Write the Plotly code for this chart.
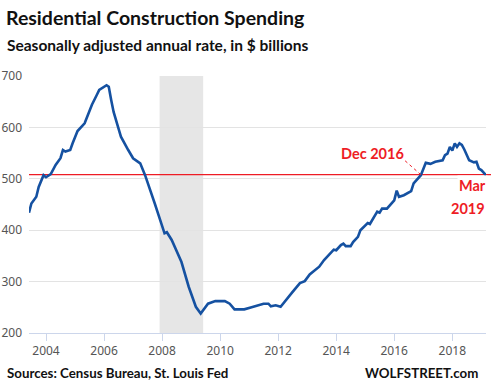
import plotly.graph_objects as go

# ---- data ----
dates = [
    "2003-06", "2003-07", "2003-09", "2003-10", "2003-12", "2004-01", "2004-03", "2004-05",
    "2004-07", "2004-08", "2004-09", "2004-11", "2004-12", "2005-02", "2005-05", "2005-07",
    "2005-08", "2005-10", "2005-11", "2006-02", "2006-03", "2006-04", "2006-05", "2006-07",
    "2006-08", "2006-11", "2007-01", "2007-04", "2007-06", "2007-10", "2008-02", "2008-03",
    "2008-05", "2008-09", "2008-12", "2009-03", "2009-05", "2009-08", "2009-11", "2010-03",
    "2010-05", "2010-07", "2010-11", "2011-02", "2011-07", "2011-09", "2011-10", "2011-12",
    "2012-02", "2012-07", "2012-10", "2012-12", "2013-02", "2013-06", "2013-08", "2013-12",
    "2014-01", "2014-03", "2014-04", "2014-05", "2014-07", "2014-08", "2014-10", "2014-11",
    "2015-02", "2015-03", "2015-05", "2015-06", "2015-07", "2015-08", "2015-10", "2015-12",
    "2016-01", "2016-02", "2016-03", "2016-05", "2016-08", "2016-09", "2016-11", "2016-12",
    "2017-02", "2017-04", "2017-06", "2017-09", "2017-10", "2017-11", "2017-12", "2018-01",
    "2018-02", "2018-03", "2018-04", "2018-05", "2018-06", "2018-07", "2018-08", "2018-10",
    "2018-11", "2018-12", "2019-01", "2019-03",
]
spending = [
    434, 452, 465, 484, 507, 503, 509, 527,
    540, 556, 553, 556, 569, 593, 608, 634,
    644, 663, 673, 682, 679, 653, 630, 598,
    582, 556, 540, 530, 507, 452, 394, 396,
    381, 338, 290, 251, 238, 257, 262, 262,
    257, 246, 246, 250, 257, 257, 252, 254,
    251, 280, 297, 301, 314, 329, 342, 362,
    361, 371, 374, 369, 369, 377, 387, 400,
    414, 412, 429, 436, 434, 442, 442, 452,
    458, 477, 465, 468, 476, 491, 501, 507,
    531, 529, 533, 536, 546, 549, 562, 555,
    569, 562, 569, 566, 557, 546, 536, 532,
    533, 520, 517, 507,
]
reference_level = 508
reference_label_date = "2016-12"
last_label_date = "2019-03"
recession_start = "2007-12-01"
recession_end = "2009-06-01"
x_range = ["2003-06-01", "2019-03-01"]
tick_years = [2004, 2006, 2008, 2010, 2012, 2014, 2016, 2018]
tick_vals = [f"{y}-01-01" for y in tick_years]
tick_text = [str(y) for y in tick_years]
y_ticks = [200, 300, 400, 500, 600, 700]

title_text = "Residential Construction Spending"
subtitle_text = "Seasonally adjusted annual rate, in $ billions"
source_text = "Sources: Census Bureau, St. Louis Fed"
brand_text = "WOLFSTREET.com"

# ---- layout constants ----
W, H = 491, 389
L, R, T, B = 29, 5, 76, 56
PW, PH = W - L - R, H - T - B
RED = "#ee1c25"
BLUE = "#1551a1"
FONT = "Lato"


def px_x(p):
    return (p - L) / PW


def px_y(p):
    return 1 - (p - T) / PH


fig = go.Figure()
fig.add_trace(go.Scatter(
    x=dates, y=spending, mode="lines",
    line=dict(color=BLUE, width=2.6), hoverinfo="skip", showlegend=False,
))

fig.add_shape(type="rect", xref="x", yref="paper", x0=recession_start, x1=recession_end,
              y0=0, y1=1, fillcolor="#e6e6e6", line_width=0, layer="below")
fig.add_shape(type="line", xref="paper", yref="y", x0=0, x1=px_x(W), y0=reference_level,
              y1=reference_level, line=dict(color=RED, width=1.3), layer="below")
# dotted leader for Dec 2016
fig.add_shape(type="line", xref="x", yref="y", xsizemode="pixel", ysizemode="pixel",
              xanchor=reference_label_date, yanchor=reference_level,
              x0=0, x1=-17, y0=0, y1=15, line=dict(color=RED, width=1, dash="dot"))

fig.update_layout(
    width=W, height=H,
    margin=dict(l=L, r=R, t=T, b=B, autoexpand=False),
    paper_bgcolor="white", plot_bgcolor="white",
    showlegend=False,
    xaxis=dict(
        type="date", range=x_range, tickvals=tick_vals, ticktext=tick_text,
        showgrid=False, showline=True, linecolor="#ccd6eb", linewidth=1,
        ticks="outside", ticklen=7, tickcolor="#ccd6eb", tickwidth=1,
        tickfont=dict(family="Noto Sans", size=12, color="#555555"),
        zeroline=False, automargin=False,
    ),
    yaxis=dict(
        range=[200, 700], tickvals=y_ticks, showgrid=True, gridcolor="#e3e3e3",
        gridwidth=1, zeroline=False, showline=False, ticks="",
        ticklabelstandoff=6, automargin=False,
        tickfont=dict(family="Noto Sans", size=12, color="#555555"),
    ),
)

paper_text = dict(xref="paper", yref="paper", showarrow=False, yanchor="middle")
annotations = [
    dict(text=f"<b>{title_text}</b>", x=px_x(4), y=px_y(18), xanchor="left",
         font=dict(family=FONT, size=19.5, color="#111111"), **paper_text),
    dict(text=f"<b>{subtitle_text}</b>", x=px_x(5), y=px_y(45), xanchor="left",
         font=dict(family=FONT, size=15.5, color="#111111"), **paper_text),
    dict(text=f"<b>{source_text}</b>", x=px_x(5), y=px_y(373), xanchor="left",
         font=dict(family=FONT, size=13.3, color="#111111"), **paper_text),
    dict(text=f"<b>{brand_text}</b>", x=px_x(480), y=px_y(373), xanchor="right",
         font=dict(family=FONT, size=13.3, color="#111111"), **paper_text),
    dict(text="<b>Dec 2016</b>", xref="x", yref="y", x=reference_label_date, y=reference_level,
         xanchor="right", yanchor="middle", xshift=-15, yshift=21, showarrow=False,
         font=dict(family=FONT, size=14.5, color=RED)),
    dict(text="<b>Mar</b>", x=px_x(488), y=px_y(185), xanchor="right",
         bgcolor="white", borderpad=1,
         font=dict(family=FONT, size=14.5, color=RED), **paper_text),
    dict(text="<b>2019</b>", x=px_x(488), y=px_y(208), xanchor="right",
         bgcolor="white", borderpad=2,
         font=dict(family=FONT, size=14.5, color=RED), **paper_text),
]
fig.update_layout(annotations=annotations)

fig.write_html("out.html", config={"displayModeBar": False},
               post_script="document.body.style.margin='0';document.body.style.overflow='hidden';")
